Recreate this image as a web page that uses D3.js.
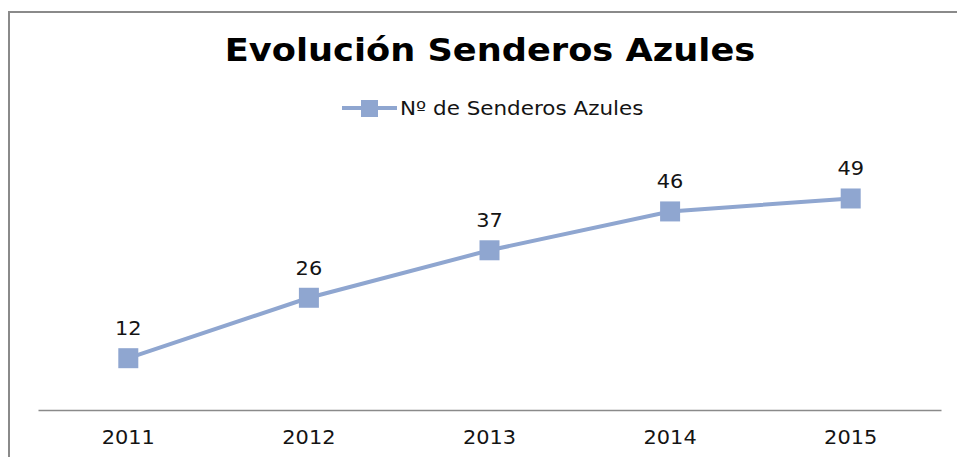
<!DOCTYPE html>
<html>
<head>
<meta charset="utf-8">
<script src="https://cdn.jsdelivr.net/npm/d3@7"></script>
<style>
  body { margin: 0; background: #fff; }
  text { font-family: "DejaVu Sans", sans-serif; fill: #141414; }
</style>
</head>
<body>
<svg id="chart" width="957" height="457"></svg>
<script>
const years = [ "2011", "2012", "2013", "2014", "2015" ];
const senderos = [ 12, 26, 37, 46, 49 ];
const seriesName = "Nº de Senderos Azules";
const title = "Evolución Senderos Azules";

const WIDTH = 957;
const HEIGHT = 457;
const MARGINS = {
  top   : 151,
  right : 16,
  bottom: 47,
  left  : 38,
};
const BLUE = "#8fa6d0";
const STRETCH = 1.1;

const data = years.map( ( y, i ) => ( { year: y, value: senderos[i] } ) );

const svg = d3.select( "#chart" );

// stretch text horizontally, like the original export
const widen = ( sel, k ) => sel.each( function() {
  const w = this.getComputedTextLength();
  d3.select( this ).attr( "textLength", w * k ).attr( "lengthAdjust", "spacingAndGlyphs" );
} );

// chart frame (only top and left edges are visible in the picture)
svg.append( "path" )
  .attr( "d", `M9,${HEIGHT + 5}V12H${WIDTH + 5}` )
  .attr( "fill", "none" )
  .attr( "stroke", "#8a8a8a" )
  .attr( "stroke-width", 2 );

svg.append( "text" )
  .attr( "x", 490 )
  .attr( "y", 61 )
  .attr( "text-anchor", "middle" )
  .style( "font-size", "32px" )
  .style( "font-weight", "bold" )
  .style( "fill", "#000" )
  .text( title )
  .call( widen, 1.1 );

const xRange = d3.scaleBand()
  .range( [ MARGINS.left, WIDTH - MARGINS.right ] )
  .domain( years );
const yRange = d3.scaleLinear()
  .range( [ HEIGHT - MARGINS.bottom, MARGINS.top ] )
  .domain( [ 0, 60 ] );

const xAxis = d3.axisBottom( xRange ).tickSize( 0 ).tickPadding( 0 );

const gx = svg.append( "g" )
  .attr( "class", "x axis" )
  .attr( "transform", `translate(0,${HEIGHT - MARGINS.bottom})` )
  .call( xAxis );
gx.select( ".domain" ).attr( "stroke", "#8a8a8a" ).attr( "stroke-width", 1.3 );
gx.selectAll( ".tick text" )
  .attr( "y", 34 )
  .attr( "dy", null )
  .style( "font-size", "19px" )
  .style( "font-family", "DejaVu Sans, sans-serif" )
  .attr( "fill", "#141414" )
  .call( widen, STRETCH );

const cx = d => xRange( d.year ) + xRange.bandwidth() / 2;

const line = d3.line()
  .x( cx )
  .y( d => yRange( d.value ) );

svg.append( "path" )
  .datum( data )
  .attr( "d", line )
  .attr( "fill", "none" )
  .attr( "stroke", BLUE )
  .attr( "stroke-width", 4 );

const MK = 20;
svg.selectAll( "rect.marker" )
  .data( data )
  .enter()
  .append( "rect" )
  .attr( "class", "marker" )
  .attr( "x", d => cx( d ) - MK / 2 )
  .attr( "y", d => yRange( d.value ) - MK / 2 )
  .attr( "width", MK )
  .attr( "height", MK )
  .attr( "fill", BLUE );

svg.selectAll( "text.label" )
  .data( data )
  .enter()
  .append( "text" )
  .attr( "class", "label" )
  .attr( "x", cx )
  .attr( "y", d => yRange( d.value ) - 23 )
  .attr( "text-anchor", "middle" )
  .style( "font-size", "19px" )
  .text( d => d.value )
  .call( widen, STRETCH );

// legend
const lg = svg.append( "g" ).attr( "transform", "translate(342,108)" );
lg.append( "line" )
  .attr( "x1", 0 ).attr( "x2", 55 )
  .attr( "stroke", BLUE ).attr( "stroke-width", 4 );
lg.append( "rect" )
  .attr( "x", 19 ).attr( "y", -8 )
  .attr( "width", 17 ).attr( "height", 17 )
  .attr( "fill", BLUE );
lg.append( "text" )
  .attr( "x", 58 )
  .attr( "y", 7 )
  .style( "font-size", "19px" )
  .text( seriesName )
  .call( widen, 1.13 );
</script>
</body>
</html>
